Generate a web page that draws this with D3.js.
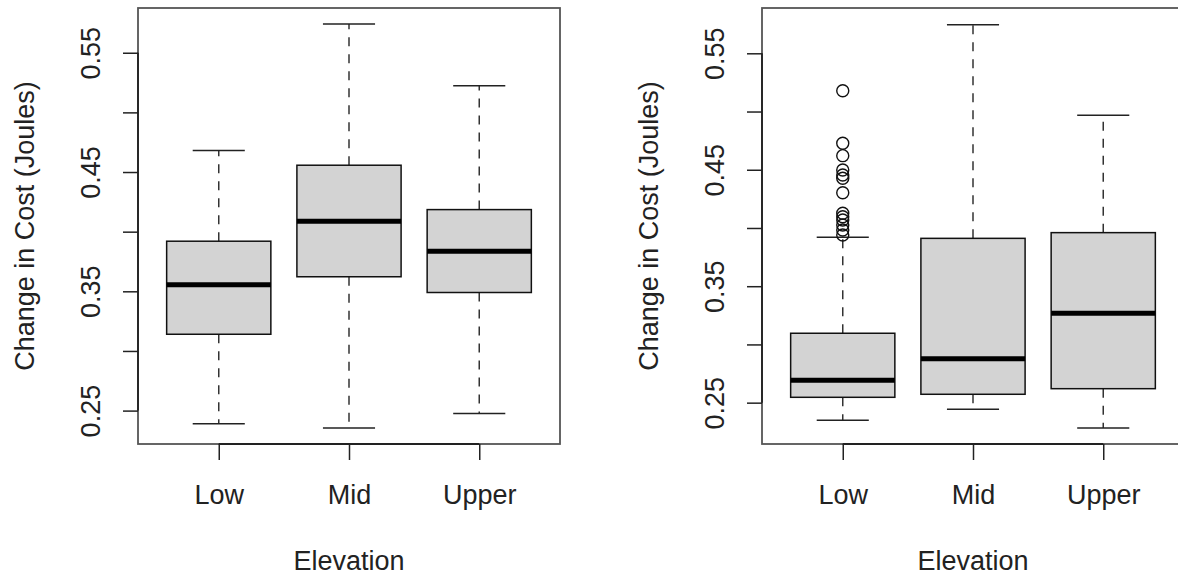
<!DOCTYPE html>
<html>
<head>
<meta charset="utf-8">
<script src="https://cdn.jsdelivr.net/npm/d3@7"></script>
<style>
  body { margin: 0; background: #fff; }
  text { font-family: 'Liberation Sans', Arial, sans-serif; fill: #222; }
</style>
</head>
<body>
<script>
// Box stats
const categories = ['Low', 'Mid', 'Upper']
const yTicks = [0.25, 0.30, 0.35, 0.40, 0.45, 0.50, 0.55]
const yTickLabels = ['0.25', '', '0.35', '', '0.45', '', '0.55']

// left panel
const leftLower = [0.239, 0.2355, 0.2475]
const leftQ1 = [0.314, 0.3622, 0.349]
const leftMedian = [0.3555, 0.4087, 0.3835]
const leftQ3 = [0.392, 0.4557, 0.4185]
const leftUpper = [0.468, 0.574, 0.5223]

// right panel
const rightLower = [0.2349, 0.2443, 0.2283]
const rightQ1 = [0.2546, 0.2572, 0.262]
const rightMedian = [0.2692, 0.2878, 0.3268]
const rightQ3 = [0.3096, 0.3911, 0.396]
const rightUpper = [0.392, 0.5745, 0.4968]
const rightOutliersLow = [0.5179, 0.4727, 0.4621, 0.4498, 0.4455, 0.4427, 0.4303,
    0.4126, 0.4097, 0.4069, 0.4026, 0.3983, 0.394]

const svg = d3.select('body').append('svg')
    .attr('width', 1178)
    .attr('height', 576)

const plotTop = 8, plotBottom = 444

function panel(left, right, yDomain, stats, outliers) {
    const g = svg.append('g')

    const xScale = d3.scaleLinear()
        .domain([0.38, 3.62])
        .range([left, right])

    const yScale = d3.scaleLinear()
        .domain(yDomain)
        .range([plotBottom, plotTop])

    const rows = categories.map((c, i) => ({
        i: i + 1,
        lo: stats[0][i], q1: stats[1][i], med: stats[2][i], q3: stats[3][i], hi: stats[4][i]
    }))

    // whiskers
    g.selectAll('.wlo').data(rows).enter().append('line')
        .attr('x1', d => xScale(d.i)).attr('x2', d => xScale(d.i))
        .attr('y1', d => yScale(d.q1)).attr('y2', d => yScale(d.lo))
        .style('stroke', '#333').style('stroke-width', 1.5)
        .style('stroke-dasharray', '9,8')
    g.selectAll('.whi').data(rows).enter().append('line')
        .attr('x1', d => xScale(d.i)).attr('x2', d => xScale(d.i))
        .attr('y1', d => yScale(d.q3)).attr('y2', d => yScale(d.hi))
        .style('stroke', '#333').style('stroke-width', 1.5)
        .style('stroke-dasharray', '9,8')

    // caps
    ;['lo', 'hi'].forEach(k => {
        g.selectAll('.cap' + k).data(rows).enter().append('line')
            .attr('x1', d => xScale(d.i - 0.2)).attr('x2', d => xScale(d.i + 0.2))
            .attr('y1', d => yScale(d[k])).attr('y2', d => yScale(d[k]))
            .style('stroke', '#222').style('stroke-width', 1.5)
    })

    // boxes
    g.selectAll('.box').data(rows).enter().append('rect')
        .attr('x', d => xScale(d.i - 0.4))
        .attr('width', d => xScale(d.i + 0.4) - xScale(d.i - 0.4))
        .attr('y', d => yScale(d.q3))
        .attr('height', d => yScale(d.q1) - yScale(d.q3))
        .style('fill', '#d3d3d3').style('stroke', '#111').style('stroke-width', 1.5)

    // medians
    g.selectAll('.med').data(rows).enter().append('line')
        .attr('x1', d => xScale(d.i - 0.4)).attr('x2', d => xScale(d.i + 0.4))
        .attr('y1', d => yScale(d.med)).attr('y2', d => yScale(d.med))
        .style('stroke', '#000').style('stroke-width', 5)

    // outliers
    if (outliers) {
        g.selectAll('.out').data(outliers).enter().append('circle')
            .attr('cx', d => xScale(d.i)).attr('cy', d => yScale(d.v))
            .attr('r', 6)
            .style('fill', 'none').style('stroke', '#111').style('stroke-width', 1.4)
    }

    // frame
    g.append('rect')
        .attr('x', left).attr('y', plotTop)
        .attr('width', right - left).attr('height', plotBottom - plotTop)
        .style('fill', 'none').style('stroke', '#555').style('stroke-width', 1.8)

    // y axis
    const yAxis = g.append('g')
        .attr('transform', `translate(${left},0)`)
        .call(d3.axisLeft(yScale).tickValues(yTicks).tickSize(15)
            .tickFormat((d, i) => yTickLabels[i]))
    yAxis.select('.domain').remove()
    yAxis.selectAll('line').style('stroke', '#222').style('stroke-width', 1.5)
    yAxis.selectAll('text')
        .attr('x', null).attr('dy', null)
        .attr('transform', 'translate(-38.5,0) rotate(-90)')
        .style('text-anchor', 'middle')
        .style('font-size', '27px')
    g.append('line')
        .attr('x1', left).attr('x2', left)
        .attr('y1', yScale(yTicks[0])).attr('y2', yScale(yTicks[yTicks.length - 1]))
        .style('stroke', '#222').style('stroke-width', 1.8)

    // x axis
    const xAxis = g.append('g')
        .attr('transform', `translate(0,${plotBottom})`)
        .call(d3.axisBottom(xScale).tickValues([1, 2, 3]).tickSize(16)
            .tickFormat((d, i) => categories[i]))
    xAxis.select('.domain').remove()
    xAxis.selectAll('line').style('stroke', '#222').style('stroke-width', 1.5)
    xAxis.selectAll('text')
        .attr('y', 60).attr('dy', null)
        .style('font-size', '27px')
    g.append('line')
        .attr('x1', xScale(1)).attr('x2', xScale(3))
        .attr('y1', plotBottom).attr('y2', plotBottom)
        .style('stroke', '#222').style('stroke-width', 1.8)

    // titles
    g.append('text')
        .attr('x', xScale(2)).attr('y', 570)
        .style('text-anchor', 'middle').style('font-size', '27px')
        .text('Elevation')
    g.append('text')
        .attr('transform', `translate(${left - 104},${(plotTop + plotBottom) / 2}) rotate(-90)`)
        .style('text-anchor', 'middle').style('font-size', '27px')
        .text('Change in Cost (Joules)')
}

panel(138, 560, [0.222, 0.5875],
    [leftLower, leftQ1, leftMedian, leftQ3, leftUpper], null)

panel(762, 1184, [0.2145, 0.5889],
    [rightLower, rightQ1, rightMedian, rightQ3, rightUpper],
    rightOutliersLow.map(v => ({ i: 1, v })))
</script>
</body>
</html>
